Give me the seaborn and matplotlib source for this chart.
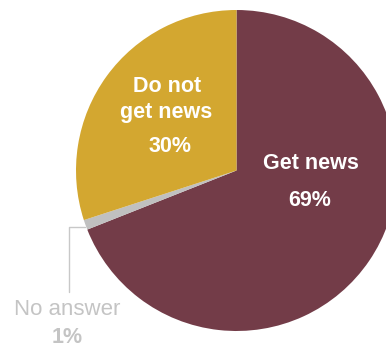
import matplotlib
matplotlib.use("Agg")
import matplotlib.pyplot as plt
import seaborn as sns

categories = ["Get news", "No answer", "Do not get news"]
values = [69, 1, 30]
pct_labels = ["69%", "1%", "30%"]
colors = ["#733C48", "#C0C0C0", "#D3A730"]

sns.set_theme(style="white")
plt.rcParams['font.family'] = ['Liberation Sans', 'DejaVu Sans']

W, H = 386, 347
fig = plt.figure(figsize=(W / 100, H / 100), dpi=100)
ax = fig.add_axes([0, 0, 1, 1])

def py(y):
    return H - y

ax.pie(values, colors=colors, startangle=90, counterclock=False,
       center=(236.5, py(170.5)), radius=160.5, frame=True,
       wedgeprops=dict(linewidth=0))
ax.set_xlim(0, W)
ax.set_ylim(0, H)
ax.set_aspect("equal")
ax.axis("off")

fs = 15.5
# Get news
ax.text(311, py(169), categories[0], color="white", fontsize=fs, fontweight="bold",
        ha="center", va="baseline")
ax.text(310, py(206), pct_labels[0], color="white", fontsize=fs, fontweight="bold",
        ha="center", va="baseline")
# Do not get news
ax.text(167, py(92), "Do not", color="white", fontsize=fs, fontweight="bold",
        ha="center", va="baseline")
ax.text(166.5, py(118), "get news", color="white", fontsize=fs, fontweight="bold",
        ha="center", va="baseline")
ax.text(170, py(152), pct_labels[2], color="white", fontsize=fs, fontweight="bold",
        ha="center", va="baseline")
# No answer
ax.plot([68.5, 68.5, 85], [py(292), py(227), py(227)], color="#C8C8C8", lw=1)
ax.text(67.5, py(315), categories[1], color="#C4C4C4", fontsize=fs + 0.5,
        ha="center", va="baseline")
ax.text(67, py(343), pct_labels[1], color="#C4C4C4", fontsize=fs, fontweight="bold",
        ha="center", va="baseline")

fig.savefig("out.png", dpi=100)
